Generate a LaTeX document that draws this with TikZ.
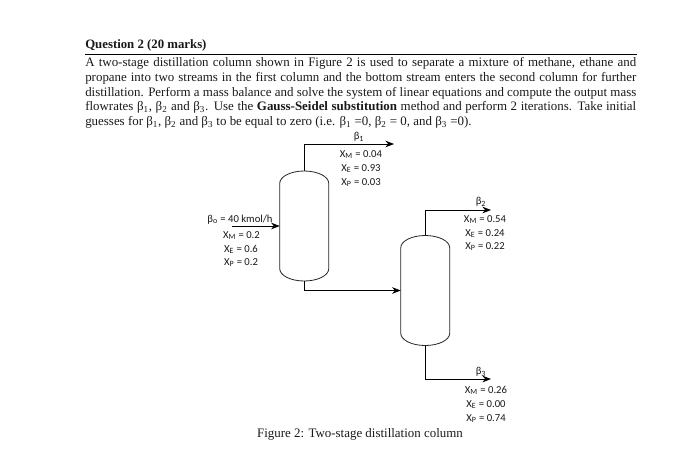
\documentclass[tikz,border=0pt]{standalone}
\usepackage{fontspec}
\setmainfont{Liberation Serif}
\newfontfamily\labelfont{Carlito}
\usepackage{xcolor}
\definecolor{textcolor}{RGB}{25,25,25}
\usetikzlibrary{arrows.meta}
\newcommand{\subs}[1]{\textsubscript{#1}}
\newcommand{\bone}{β\subs{1}}
\newcommand{\btwo}{β\subs{2}}
\newcommand{\bthr}{β\subs{3}}
\tikzset{
  streamlabel/.style={color=textcolor, font=\labelfont\fontsize{8}{9}\selectfont, inner sep=0pt},
  columnbox/.style={minimum width=36.75pt, minimum height=82.5pt, inner sep=0pt},
  stream/.style={line width=0.6pt, color=black, -{Stealth[length=6.5pt,width=5pt]}},
  columnline/.style={line width=0.6pt, color=black!85},
}
% one column: straight sides with a shallow dome at each end
\newcommand{\columnshell}[1]{
  \draw[columnline] (#1.west) ++(0,-32pt)
    -- ++(0,64pt)
    arc[start angle=180, end angle=0, x radius=18.375pt, y radius=9.25pt]
    -- ++(0,-64pt)
    arc[start angle=0, end angle=-180, x radius=18.375pt, y radius=9.25pt]
    -- cycle;
}
\begin{document}
\begin{tikzpicture}[x=0.75pt, y=-0.75pt, every node/.style={color=textcolor}]
  \useasboundingbox[fill=white] (0,0) rectangle (688,451);

  % question text
  \node[anchor=base west, inner sep=0pt, font=\fontsize{9.6}{12}\selectfont\bfseries] (title) at (85,48) {Question 2 (20 marks)};
  \coordinate (ruleA) at (85,54.5);
  \coordinate (ruleB) at (637,54.5);
  \draw[line width=0.5pt, color=black] (ruleA) -- (ruleB);
  \node[anchor=north west, inner sep=0pt, text width=413.25pt, align=justify, font=\fontsize{9.7}{10.95}\selectfont] (question) at (85,57.5) {A two-stage distillation column shown in Figure 2 is used to separate a mixture of methane, ethane and\linebreak
  propane into two streams in the first column and the bottom stream enters the second column for further\linebreak
  distillation. Perform a mass balance and solve the system of linear equations and compute the output mass\linebreak
  flowrates \bone, \btwo{} and \bthr. Use the \textbf{Gauss-Seidel substitution} method and perform 2 iterations. Take initial\linebreak
  guesses for \bone, \btwo{} and \bthr{} to be equal to zero (i.e. \bone{} =0, \btwo{} = 0, and \bthr{} =0).};

  % columns
  \node[columnbox] (colA) at (304.5,226) {};
  \node[columnbox] (colB) at (425.5,290.5) {};
  \columnshell{colA}
  \columnshell{colB}

  % streams
  \coordinate (feed) at (232,226);
  \coordinate (topA) at (394,144);
  \coordinate (topB) at (491,210);
  \coordinate (botB) at (491,379);
  \draw[stream] (feed) -- (colA.west);
  \draw[stream] (colA.north) |- (topA);
  \draw[stream] (colA.south) |- (colB.west);
  \draw[stream] (colB.north) |- (topB);
  \draw[stream] (colB.south) |- (botB);

  % feed labels
  \node[streamlabel] (feedB) at (240,219.5) {β\subs{o} = 40 kmol/h};
  \node[streamlabel] (feedM) at (241.5,235.5) {X\subs{M} = 0.2};
  \node[streamlabel] (feedE) at (241,249.5) {X\subs{E} = 0.6};
  \node[streamlabel] (feedP) at (241,262.5) {X\subs{P} = 0.2};

  % top of first column
  \node[streamlabel] (oneB) at (359,137) {\bone};
  \node[streamlabel] (oneM) at (361,154.5) {X\subs{M} = 0.04};
  \node[streamlabel] (oneE) at (361,168.5) {X\subs{E} = 0.93};
  \node[streamlabel] (oneP) at (361,182.5) {X\subs{P} = 0.03};

  % top of second column
  \node[streamlabel] (twoB) at (481,202) {\btwo};
  \node[streamlabel] (twoM) at (485,219.5) {X\subs{M} = 0.54};
  \node[streamlabel] (twoE) at (485,233.5) {X\subs{E} = 0.24};
  \node[streamlabel] (twoP) at (485,246.5) {X\subs{P} = 0.22};

  % bottom of second column
  \node[streamlabel] (thrB) at (481,372) {\bthr};
  \node[streamlabel] (thrM) at (486,390.5) {X\subs{M} = 0.26};
  \node[streamlabel] (thrE) at (486,404.5) {X\subs{E} = 0.00};
  \node[streamlabel] (thrP) at (486,418.5) {X\subs{P} = 0.74};

  \node[inner sep=0pt, font=\fontsize{9.7}{12}\selectfont] (caption) at (360,434) {Figure 2: Two-stage distillation column};
\end{tikzpicture}
\end{document}
